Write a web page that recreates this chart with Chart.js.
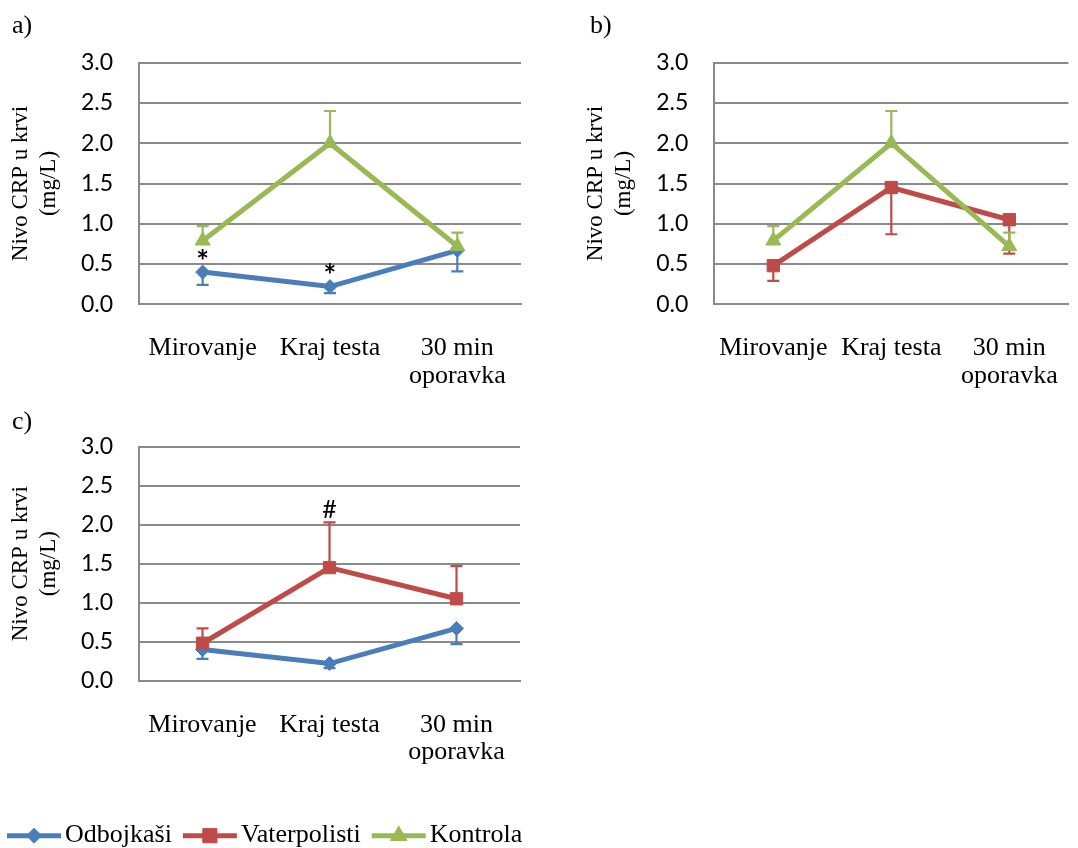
<!DOCTYPE html>
<html lang="sr">
<head>
<meta charset="utf-8">
<title>Nivo CRP u krvi</title>
<script src="https://cdn.jsdelivr.net/npm/chart.js@4.4.1/dist/chart.umd.min.js"></script>
<style>
  html, body { margin: 0; padding: 0; background: #fff; }
  body { width: 1078px; height: 848px; position: relative; overflow: hidden; }
  canvas { position: absolute; display: block; }
  #chart-a { left: 0; top: 0; }
  #chart-b { left: 575px; top: 0; }
  #chart-c { left: 0; top: 390px; }
</style>
</head>
<body>
<canvas id="chart-a" width="540" height="390"></canvas>
<canvas id="chart-b" width="503" height="390"></canvas>
<canvas id="chart-c" width="540" height="458"></canvas>
<script>
// === CRP u krvi — panels a), b), c) ===

const categories = ['Mirovanje', 'Kraj testa', ['30 min', 'oporavka']];
const yTicks = [0, 0.5, 1.0, 1.5, 2.0, 2.5, 3.0];

const odbojkasi = [0.40, 0.22, 0.67];
const vaterpolisti = [0.48, 1.45, 1.05];
const kontrola = [0.79, 2.00, 0.72];

// SD bars (blue ones differ a bit between a and c)
const odbojkasiSdA = [0.16, 0.08, 0.26];
const odbojkasiSdC = [0.12, 0.06, 0.20];
const vaterpolistiSd = [0.19, 0.58, 0.42];
const kontrolaSd = [0.18, 0.40, 0.17];

const COLORS = {
  blue: '#4a7ebb',
  red: '#be4b48',
  green: '#98b954',
  grid: '#8a8a8a',
  text: '#000000',
};

const SERIES = {
  odbojkasi: { label: 'Odbojkaši', color: COLORS.blue, pointStyle: 'rectRot', radius: 7, legendRadius: 7.5, order: 3 },
  vaterpolisti: { label: 'Vaterpolisti', color: COLORS.red, pointStyle: 'rect', radius: 8.7, legendRadius: 10, order: 2 },
  kontrola: { label: 'Kontrola', color: COLORS.green, pointStyle: 'triangle', radius: 8.7, legendRadius: 9.5, order: 1 },
};

const LINE_WIDTH = 5;

Chart.defaults.font.family = "'Liberation Serif', serif";
Chart.defaults.color = COLORS.text;

function makeDataset(key, values, sd, dir) {
  const s = SERIES[key];
  return {
    label: s.label,
    data: values,
    borderColor: s.color,
    backgroundColor: s.color,
    borderWidth: LINE_WIDTH,
    pointStyle: s.pointStyle,
    pointRadius: s.radius,
    pointBackgroundColor: s.color,
    pointBorderColor: s.color,
    pointBorderWidth: 1,
    tension: 0,
    order: s.order,
    sd,          // custom: error bar length
    sdDir: dir,  // custom: +1 up, -1 down
  };
}

// === PLUGINS ===

const errorBarsPlugin = {
  id: 'errorBars',
  afterDatasetDraw(chart, args) {
    const ds = chart.data.datasets[args.index];
    if (!ds.sd) return;
    const yScale = chart.scales.y;
    const ctx = chart.ctx;
    ctx.save();
    ctx.strokeStyle = ds.borderColor;
    ctx.lineWidth = 2.2;
    args.meta.data.forEach((pt, i) => {
      const yEnd = yScale.getPixelForValue(ds.data[i] + ds.sdDir * ds.sd[i]);
      ctx.beginPath();
      ctx.moveTo(pt.x, pt.y);
      ctx.lineTo(pt.x, yEnd);
      ctx.moveTo(pt.x - 6, yEnd);
      ctx.lineTo(pt.x + 6, yEnd);
      ctx.stroke();
    });
    ctx.restore();
  },
};

const marksPlugin = {
  id: 'marks',
  afterDatasetsDraw(chart, args, opts) {
    if (!opts.items) return;
    const ctx = chart.ctx;
    const yScale = chart.scales.y;
    ctx.save();
    ctx.fillStyle = COLORS.text;
    ctx.textAlign = 'center';
    ctx.textBaseline = 'alphabetic';
    opts.items.forEach(m => {
      const ds = chart.data.datasets[m.dataset];
      const pt = chart.getDatasetMeta(m.dataset).data[m.index];
      const v = ds.data[m.index] + (m.fromBar ? ds.sdDir * ds.sd[m.index] : 0);
      const cy = yScale.getPixelForValue(v) + m.dy;
      ctx.font = m.font;
      const tm = ctx.measureText(m.text);
      // center the glyph itself on cy
      ctx.fillText(m.text, pt.x, cy + (tm.actualBoundingBoxAscent - tm.actualBoundingBoxDescent) / 2);
    });
    ctx.restore();
  },
};

const panelLabelPlugin = {
  id: 'panelLabel',
  afterDraw(chart, args, opts) {
    if (!opts.text) return;
    const ctx = chart.ctx;
    ctx.save();
    ctx.font = "26px 'Liberation Serif'";
    ctx.fillStyle = COLORS.text;
    ctx.textAlign = 'left';
    ctx.textBaseline = 'alphabetic';
    ctx.fillText(opts.text, opts.x, opts.y);
    ctx.restore();
  },
};

const seriesLegendPlugin = {
  id: 'seriesLegend',
  afterDraw(chart, args, opts) {
    if (!opts.keys) return;
    const ctx = chart.ctx;
    let x = opts.x;
    ctx.save();
    ctx.font = "26px 'Liberation Serif'";
    ctx.textAlign = 'left';
    ctx.textBaseline = 'alphabetic';
    opts.keys.forEach(key => {
      const s = SERIES[key];
      ctx.strokeStyle = s.color;
      ctx.fillStyle = s.color;
      ctx.lineWidth = LINE_WIDTH;
      ctx.beginPath();
      ctx.moveTo(x, opts.lineY);
      ctx.lineTo(x + opts.lineLen, opts.lineY);
      ctx.stroke();
      ctx.lineWidth = 1;
      Chart.helpers.drawPoint(ctx, { pointStyle: s.pointStyle, radius: s.legendRadius, borderWidth: 1, rotation: 0 },
        x + opts.lineLen / 2, opts.lineY);
      x += opts.lineLen + opts.textGap;
      ctx.fillStyle = COLORS.text;
      ctx.fillText(s.label, x, opts.textY);
      x += ctx.measureText(s.label).width + opts.itemGap;
    });
    ctx.restore();
  },
};

// === PANEL CREATION ===

function createPanel(id, panel) {
  const ctx = document.getElementById(id).getContext('2d');
  return new Chart(ctx, {
    type: 'line',
    data: { labels: categories, datasets: panel.datasets },
    options: {
      responsive: false,
      animation: false,
      events: [],
      layout: { padding: panel.padding },
      plugins: {
        legend: { display: false },
        tooltip: { enabled: false },
        marks: { items: panel.marks || null },
        panelLabel: panel.label,
        seriesLegend: panel.legend || {},
      },
      scales: {
        x: {
          offset: true,
          grid: { display: false, drawTicks: false },
          border: { display: true, color: COLORS.grid, width: 2 },
          ticks: {
            color: COLORS.text,
            font: { size: 26, lineHeight: 1.065 },
            padding: 30.3,
            maxRotation: 0,
            autoSkip: false,
          },
          afterFit: s => {
            s.height = panel.xHeight;
            s.paddingLeft = 0;
            s.paddingRight = 0;
          },
        },
        y: {
          min: 0,
          max: 3,
          afterBuildTicks: s => { s.ticks = yTicks.map(value => ({ value })); },
          grid: { color: COLORS.grid, lineWidth: 2, drawTicks: false },
          border: { display: true, color: COLORS.grid, width: 2 },
          ticks: {
            color: COLORS.text,
            font: { family: 'Lato', size: 23 },
            padding: 26,
            callback: v => v.toFixed(1),
          },
          title: {
            display: true,
            text: ['Nivo CRP u krvi', '(mg/L)'],
            color: COLORS.text,
            font: { size: 23, lineHeight: 1.22 },
            padding: { top: 6.5, bottom: 0 },
          },
          afterFit: s => { s.width = panel.yWidth; },
        },
      },
    },
    plugins: [errorBarsPlugin, marksPlugin, panelLabelPlugin, seriesLegendPlugin],
  });
}

// a) Odbojkaši vs Kontrola
createPanel('chart-a', {
  datasets: [
    makeDataset('odbojkasi', odbojkasi, odbojkasiSdA, -1),
    makeDataset('kontrola', kontrola, kontrolaSd, 1),
  ],
  padding: { left: 0, top: 62.7, right: 19, bottom: 0 },
  yWidth: 139,
  xHeight: 85.7,
  label: { text: 'a)', x: 12, y: 33 },
  marks: [
    { dataset: 0, index: 0, text: '*', font: "bold 30px 'Lato'", dy: -17.5 },
    { dataset: 0, index: 1, text: '*', font: "bold 30px 'Lato'", dy: -18.5 },
  ],
});

// b) Vaterpolisti vs Kontrola
createPanel('chart-b', {
  datasets: [
    makeDataset('vaterpolisti', vaterpolisti, vaterpolistiSd, -1),
    makeDataset('kontrola', kontrola, kontrolaSd, 1),
  ],
  padding: { left: 0, top: 62.7, right: 0, bottom: 0 },
  yWidth: 139.3,
  xHeight: 85.7,
  label: { text: 'b)', x: 15, y: 33 },
});

// c) Odbojkaši vs Vaterpolisti + shared legend
createPanel('chart-c', {
  datasets: [
    makeDataset('odbojkasi', odbojkasi, odbojkasiSdC, -1),
    makeDataset('vaterpolisti', vaterpolisti, vaterpolistiSd, 1),
  ],
  padding: { left: 0, top: 56.7, right: 20, bottom: 81.6 },
  yWidth: 139,
  xHeight: 85.7,
  label: { text: 'c)', x: 12, y: 39 },
  marks: [
    { dataset: 1, index: 1, text: '#', font: "25px 'Lato'", dy: -13.3, fromBar: true },
  ],
  legend: {
    keys: ['odbojkasi', 'vaterpolisti', 'kontrola'],
    x: 7,
    lineY: 445.7,
    textY: 452.3,
    lineLen: 54,
    textGap: 4,
    itemGap: 11,
  },
});
</script>
</body>
</html>
